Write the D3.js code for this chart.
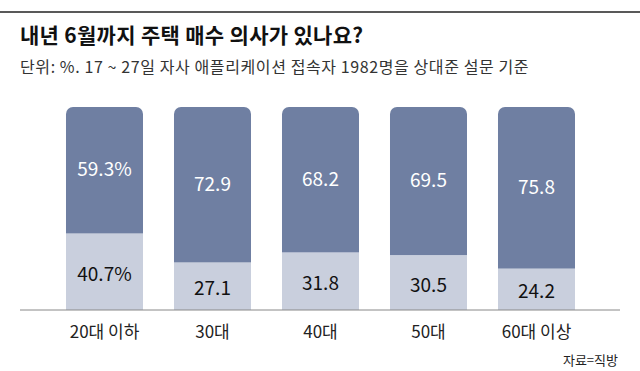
<!DOCTYPE html>
<html>
<head>
<meta charset="utf-8">
<script src="https://cdn.jsdelivr.net/npm/d3@7"></script>
<style>
  body { margin: 0; background: #fff; }
  svg { display: block; font-family: "Noto Sans CJK KR", "Noto Sans", sans-serif; }
</style>
</head>
<body>
<div class="chart"></div>
<script>
//Chart data
var categories = ["20대 이하", "30대", "40대", "50대", "60대 이상"];
var yesValues = [59.3, 72.9, 68.2, 69.5, 75.8];  //dark, top
var noValues = [40.7, 27.1, 31.8, 30.5, 24.2];   //light, bottom
var yesLabels = ["59.3%", "72.9", "68.2", "69.5", "75.8"];
var noLabels = ["40.7%", "27.1", "31.8", "30.5", "24.2"];

var titleText = "내년 6월까지 주택 매수 의사가 있나요?";
var subtitleText = "단위: %. 17 ~ 27일 자사 애플리케이션 접속자 1982명을 상대준 설문 기준";
var sourceText = "자료=직방";

//Configuration
var width = 640, height = 371;
var axisY = 310;
var darkColor = "#6f7fa2";
var lightColor = "#c9cfdd";

var svg = d3.select(".chart")
    .append("svg")
        .attr("width", width)
        .attr("height", height);

//Top rule
svg.append("line")
    .attr("x1", 0).attr("x2", width)
    .attr("y1", 12).attr("y2", 12)
    .attr("stroke", "#222")
    .attr("stroke-width", 1.3);

//Title and subtitle
svg.append("text")
    .attr("x", 20).attr("y", 43)
    .attr("font-size", 21)
    .attr("font-weight", "bold")
    .attr("letter-spacing", 0.3)
    .attr("fill", "#111")
    .text(titleText);

svg.append("text")
    .attr("x", 20).attr("y", 73)
    .attr("font-size", 16)
    .attr("letter-spacing", 0.6)
    .attr("fill", "#333")
    .text(subtitleText);

//Scales
var x = d3.scaleBand()
    .domain(categories)
    .range([50.5, 590.5])
    .paddingInner(0.287)
    .paddingOuter(0.1435);

var y = d3.scaleLinear()
    .domain([0, 100])
    .range([320, 107]);

//Clip bars at the axis line
svg.append("clipPath")
    .attr("id", "plot-clip")
    .append("rect")
        .attr("x", 0).attr("y", 0)
        .attr("width", width).attr("height", axisY);

var rows = categories.map(function(c, i) {
    return { cat: c, yes: yesValues[i], no: noValues[i], yesLabel: yesLabels[i], noLabel: noLabels[i] };
});

var bars = svg.append("g").attr("clip-path", "url(#plot-clip)");

//Dark part, rounded on top (bottom corners hidden under the light bar)
bars.selectAll("rect.yes")
    .data(rows)
    .join("rect")
        .attr("class", "yes")
        .attr("x", function(d) { return x(d.cat); })
        .attr("y", y(100))
        .attr("width", x.bandwidth())
        .attr("height", function(d) { return y(d.no) - y(100) + 8; })
        .attr("rx", 7)
        .attr("fill", darkColor);

bars.selectAll("rect.no")
    .data(rows)
    .join("rect")
        .attr("class", "no")
        .attr("x", function(d) { return x(d.cat); })
        .attr("y", function(d) { return y(d.no); })
        .attr("width", x.bandwidth())
        .attr("height", function(d) { return y(0) - y(d.no); })
        .attr("fill", lightColor);

//Value labels
svg.selectAll("text.yes-label")
    .data(rows)
    .join("text")
        .attr("class", "yes-label")
        .attr("x", function(d) { return x(d.cat) + x.bandwidth() / 2; })
        .attr("y", function(d) { return (y(100) + y(d.no)) / 2 + 6; })
        .attr("text-anchor", "middle")
        .attr("font-size", 19)
        .attr("fill", "#fff")
        .text(function(d) { return d.yesLabel; });

svg.selectAll("text.no-label")
    .data(rows)
    .join("text")
        .attr("class", "no-label")
        .attr("x", function(d) { return x(d.cat) + x.bandwidth() / 2; })
        .attr("y", function(d) { return (y(d.no) + axisY) / 2 + 9; })
        .attr("text-anchor", "middle")
        .attr("font-size", 19)
        .attr("fill", "#111")
        .text(function(d) { return d.noLabel; });

//Axis line and category labels
svg.append("line")
    .attr("x1", 20).attr("x2", 620)
    .attr("y1", axisY).attr("y2", axisY)
    .attr("stroke", "#888")
    .attr("stroke-width", 1);

var xAxis = svg.append("g")
    .attr("transform", "translate(0," + axisY + ")")
    .call(d3.axisBottom(x).tickSize(0).tickPadding(16));

xAxis.select(".domain").remove();
xAxis.selectAll("text")
    .attr("font-size", 17)
    .attr("font-family", "Noto Sans CJK KR, Noto Sans, sans-serif")
    .attr("fill", "#222");

//Source
svg.append("text")
    .attr("x", 618).attr("y", 365)
    .attr("text-anchor", "end")
    .attr("font-size", 13)
    .attr("fill", "#222")
    .text(sourceText);
</script>
</body>
</html>
